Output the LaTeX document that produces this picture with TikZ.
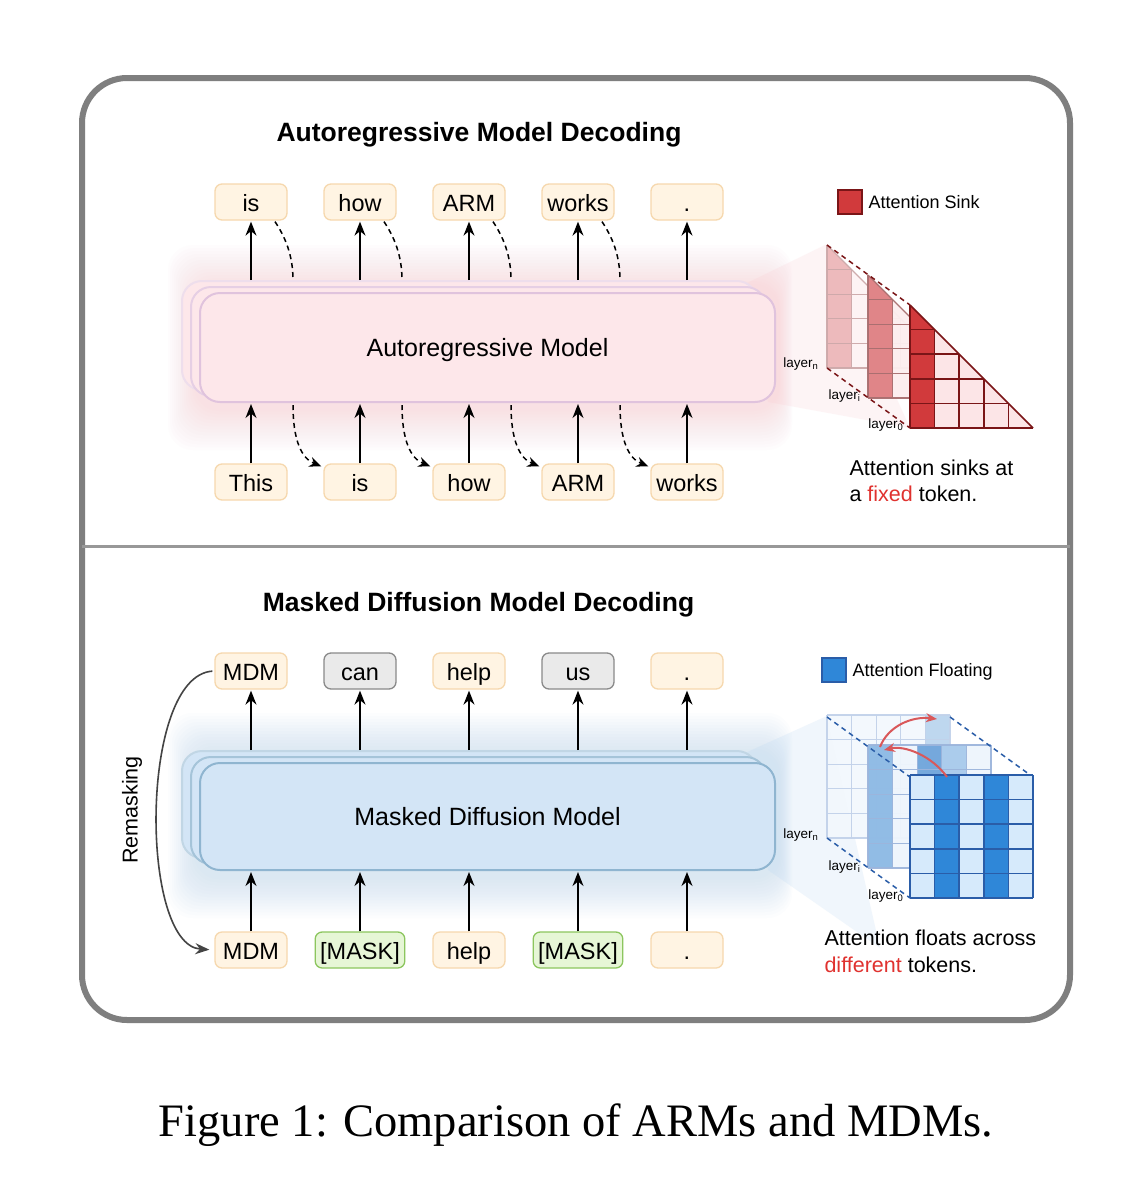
\documentclass[tikz,border=0pt]{standalone}
\usepackage{fontspec}
\setmainfont{Liberation Sans}
\newfontfamily\capfont{Liberation Serif}
\usetikzlibrary{arrows.meta,calc}
\definecolor{frameG}{HTML}{7F7F7F}
\definecolor{creamF}{HTML}{FFF4E3}
\definecolor{creamD}{HTML}{F6D8AE}
\definecolor{grayF}{HTML}{EAEAEA}
\definecolor{grayD}{HTML}{8A8A8A}
\definecolor{greenF}{HTML}{E6F6D6}
\definecolor{greenD}{HTML}{8CC65E}
\definecolor{pinkF}{HTML}{FDE7EA}
\definecolor{pinkD}{HTML}{E0C3DD}
\definecolor{pinkG}{HTML}{F9C6CD}
\definecolor{blueF}{HTML}{D3E5F6}
\definecolor{blueD}{HTML}{8FB5D0}
\definecolor{blueG}{HTML}{B4D4F2}
\definecolor{sinkD}{HTML}{D13A3C}
\definecolor{sinkL}{HTML}{FCE5E7}
\definecolor{sinkLine}{HTML}{7A1517}
\definecolor{sinkDi}{HTML}{DF8083}
\definecolor{sinkLi}{HTML}{FCEEEF}
\definecolor{sinkLinei}{HTML}{A86E6F}
\definecolor{sinkDn}{HTML}{EDB7B9}
\definecolor{sinkLn}{HTML}{FDF3F4}
\definecolor{sinkLinen}{HTML}{CDA9AA}
\definecolor{fD}{HTML}{2F87D8}
\definecolor{fL}{HTML}{D6EAFB}
\definecolor{fLine}{HTML}{2A5DA8}
\definecolor{fMi}{HTML}{8DB9E4}
\definecolor{fMi2}{HTML}{6FA5DB}
\definecolor{fMi3}{HTML}{A8CAEC}
\definecolor{fLi}{HTML}{EEF5FC}
\definecolor{fLinei}{HTML}{9CB5DC}
\definecolor{fMn}{HTML}{BCD6EF}
\definecolor{fLn}{HTML}{F3F8FD}
\definecolor{fLinen}{HTML}{C2D2EA}
\definecolor{fixred}{HTML}{E0322F}
\definecolor{redArr}{HTML}{D9585A}
\definecolor{remG}{HTML}{444444}

% triangular attention layer: x0, y0 (bottom-left), light, dark, line style, scope opts
\newcommand\sinklayer[6]{%
\begin{scope}[shift={(#1,#2)},#6]
\fill[#3] (0,0) -- (0,-123) -- (123,0) -- cycle;
\fill[#4] (0,0) -- (0,-123) -- (24.6,-98.4) -- (24.6,0) -- cycle;
\foreach \j in {0,...,4}{\draw[#5] (0,-\j*24.6) -- ({(5-\j)*24.6},-\j*24.6);}
\foreach \k in {0,...,4}{\draw[#5] (\k*24.6,0) -- (\k*24.6,{-(5-\k)*24.6});}
\draw[#5] (0,-123) -- (123,0);
\end{scope}}
% square attention layer: x0, y0, light, list col/colour, line style, scope opts
\newcommand\floatlayer[6]{%
\begin{scope}[shift={(#1,#2)},#6]
\fill[#3] (0,0) rectangle (123,-123);
\foreach \c/\col in {#4}{\fill[\col] (\c*24.6,0) rectangle ({(\c+1)*24.6},-123);}
\foreach \j in {0,...,5}{\draw[#5] (0,-\j*24.6) -- (123,-\j*24.6);}
\foreach \k in {0,...,5}{\draw[#5] (\k*24.6,0) -- (\k*24.6,-123);}
\end{scope}}

\begin{document}
\begin{tikzpicture}[x=1pt,y=-1pt,
  tok/.style={draw, rounded corners=7, line width=1.3, minimum width=72, minimum height=36,
    inner xsep=5, inner ysep=0, text height=19, text depth=0, font=\fontsize{23.5}{26}\selectfont},
  cream/.style={tok, fill=creamF, draw=creamD},
  graytok/.style={tok, fill=grayF, draw=grayD},
  greentok/.style={tok, fill=greenF, draw=greenD},
  modelbox/.style={draw, rounded corners=20, line width=2, minimum width=575,
    text height=18, text depth=0, font=\fontsize{25}{28}\selectfont},
  armbox/.style={modelbox, fill=pinkF, draw=pinkD},
  mdmbox/.style={modelbox, fill=blueF, draw=blueD},
  arr/.style={line width=1.5, -{Stealth[length=14,width=11]}, shorten >=1},
  dsh/.style={line width=1.5, dash pattern=on 5 off 4},
  title/.style={anchor=base, font=\bfseries\fontsize{26.5}{30}\selectfont},
  lyr/.style={font=\fontsize{13.5}{15}\selectfont, anchor=base east},
  capt/.style={anchor=base west, font=\fontsize{21.5}{25}\selectfont},
  legtxt/.style={anchor=west, text height=13, text depth=0, font=\fontsize{18}{20}\selectfont},
  sline/.style={draw=sinkLine, line width=1.6},
  slinei/.style={draw=sinkLinei, line width=1.3},
  slinen/.style={draw=sinkLinen, line width=1.2},
  fline/.style={draw=fLine, line width=1.6},
  flinei/.style={draw=fLinei, line width=1.3},
  flinen/.style={draw=fLinen, line width=1.2}]
\useasboundingbox (0,0) rectangle (1145,1200);
\fill[white] (0,0) rectangle (1145,1200);

% ---------- frame ----------
\draw[frameG, line width=6, rounded corners=45] (82,78) rectangle (1070,1020);
\draw[frameG!80, line width=3] (82,546) -- (1070,546);

% ---------- ARM panel ----------
\node[title] (tA) at (479,141) {Autoregressive Model Decoding};

\foreach \i in {0,...,13}{
  \fill[pinkG, fill opacity=0.04, rounded corners=25] ({168+\i*2},{245+\i*3}) rectangle ({792-\i*1},{450-\i*3});}
\fill[pinkG, fill opacity=0.18] (745,284) -- (827,244) -- (910,428) -- (768,402) -- cycle;

\node[armbox, minimum height=109, draw=pinkD!55] (mA2) at (469.5,335.5) {};
\node[armbox, minimum height=109, draw=pinkD!80] (mA1) at (478.5,341.5) {};
\node[armbox, minimum height=109] (mA) at (487.5,347.5) {Autoregressive Model};

\foreach \n/\x/\t in {1/251/is,2/360/how,3/469/ARM,4/578/works,5/687/.}{
  \node[cream] (a\n) at (\x,202) {\t};}
\foreach \n/\x/\t in {1/251/This,2/360/is,3/469/how,4/578/ARM,5/687/works}{
  \node[cream] (b\n) at (\x,482) {\t};}

\foreach \i in {1,...,5}{
  \draw[arr] (a\i.south |- mA2.north) -- (a\i.south);
  \draw[arr] (b\i.north) -- (b\i.north |- mA.south);}
\foreach \i in {1,...,4}{
  \draw[dsh] ($(a\i.south)+(24,1)$) .. controls +(10,15) and +(0,-25) .. ($(a\i.south |- mA2.north)+(42,0)$);}
\foreach \i/\j in {1/2,2/3,3/4,4/5}{
  \draw[dsh, -{Stealth[length=12,width=10]}] ($(b\i.north |- mA.south)+(42,2)$) .. controls +(0,35) and +(-20,-8) .. ($(b\j.north west)+(-2,3)$);}

% attention sink matrices
\sinklayer{827}{368}{sinkLn}{sinkDn}{slinen}{opacity=0.95}
\sinklayer{868}{398}{sinkLi}{sinkDi}{slinei}{opacity=0.95}
\draw[sinkLine, dsh] (827,245) -- (910,305);
\draw[sinkLine, dsh] (827,368) -- (910,428);
\sinklayer{910}{428}{sinkL}{sinkD}{sline}{}
\node[lyr] (ln1) at (822,367) {layer\textsubscript{n}};
\node[lyr] (li1) at (864,399) {layer\textsubscript{i}};
\node[lyr] (l01) at (907,428) {layer\textsubscript{0}};

\node[draw=sinkLine, fill=sinkD, line width=1.3, minimum size=24, inner sep=0] (lgS) at (850,202) {};
\node[legtxt] (lgSt) at (865,202) {Attention Sink};
\node[capt] (cS1) at (846,475) {Attention sinks at};
\node[capt] (cS2) at (846,501) {a \textcolor{fixred}{fixed} token.};

% ---------- MDM panel ----------
\node[title] (tB) at (478.5,611) {Masked Diffusion Model Decoding};

\foreach \i in {0,...,13}{
  \fill[blueG, fill opacity=0.04, rounded corners=25] ({168+\i*2},{713+\i*3}) rectangle ({792-\i*1},{918-\i*3});}
\fill[blueG, fill opacity=0.2] (745,753) -- (827,716) -- (880,948) -- (768,870) -- cycle;

\node[mdmbox, minimum height=107, draw=blueD!55] (mB2) at (469.5,804.5) {};
\node[mdmbox, minimum height=107, draw=blueD!80] (mB1) at (478.5,810.5) {};
\node[mdmbox, minimum height=107] (mB) at (487.5,816.5) {Masked Diffusion Model};

\node[cream]    (c1) at (251,671) {MDM};
\node[graytok]  (c2) at (360,671) {can};
\node[cream]    (c3) at (469,671) {help};
\node[graytok]  (c4) at (578,671) {us};
\node[cream]    (c5) at (687,671) {.};
\node[cream]    (d1) at (251,950) {MDM};
\node[greentok] (d2) at (360,950) {[MASK]};
\node[cream]    (d3) at (469,950) {help};
\node[greentok] (d4) at (578,950) {[MASK]};
\node[cream]    (d5) at (687,950) {.};

\foreach \i in {1,...,5}{
  \draw[arr] (c\i.south |- mB2.north) -- (c\i.south);
  \draw[arr] (d\i.north) -- (d\i.north |- mB.south);}

\draw[remG, line width=1.6, -{Stealth[length=14,width=11]}, shorten <=2, shorten >=5]
  (c1.west) .. controls +(-75,5) and +(-75,-5) .. (d1.west);
\node[rotate=90, font=\fontsize{21.5}{24}\selectfont] (rm) at (132,810) {Remasking};

% attention floating matrices
\floatlayer{827}{838}{fLn}{4/fMn}{flinen}{opacity=0.95}
\floatlayer{868}{868}{fLi}{0/fMi,2/fMi2,3/fMi3}{flinei}{opacity=0.95}
\draw[fLine, dsh] (827,717) -- (910,777);
\draw[fLine, dsh] (950,717) -- (1033,777);
\draw[fLine, dsh] (827,838) -- (910,898);
\floatlayer{910}{898}{fL}{1/fD,3/fD}{fline}{}
\draw[redArr, line width=2, -{Stealth[length=11,width=9]}] (947,777) .. controls (932,756) and (905,745) .. (884,750);
\draw[redArr, line width=2, -{Stealth[length=11,width=9]}] (880,747) .. controls (888,726) and (912,716) .. (937,719);
\node[lyr] (ln2) at (822,838) {layer\textsubscript{n}};
\node[lyr] (li2) at (864,870) {layer\textsubscript{i}};
\node[lyr] (l02) at (907,899) {layer\textsubscript{0}};

\node[draw=fLine, fill=fD, line width=1.3, minimum size=24, inner sep=0] (lgF) at (834,670) {};
\node[legtxt] (lgFt) at (849,670) {Attention Floating};
\node[capt] (cF1) at (821,945) {Attention floats across};
\node[capt] (cF2) at (821,972) {\textcolor{fixred}{different} tokens.};

% ---------- caption ----------
\node[anchor=base, font=\capfont\fontsize{46.5}{50}\selectfont] (cap) at (576,1136) {Figure 1: Comparison of ARMs and MDMs.};
\end{tikzpicture}
\end{document}
